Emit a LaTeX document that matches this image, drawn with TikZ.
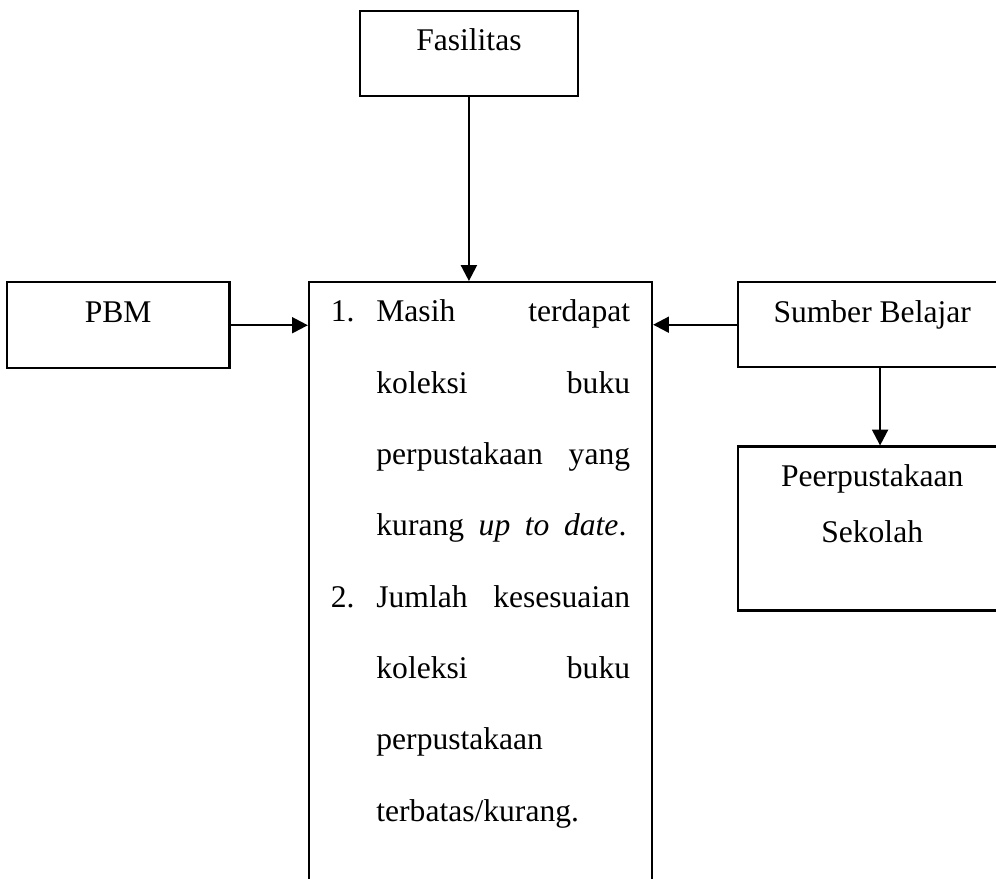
\documentclass[tikz,border=0pt]{standalone}
\usepackage{fontspec}
\setmainfont{Liberation Serif}
\usetikzlibrary{positioning,arrows.meta}

\newcommand{\nomor}[1]{\makebox[17.3pt][l]{#1}}
\newcommand{\barispenuh}[2][96.4pt]{\makebox[#1][s]{\spaceskip=0pt\xspaceskip=0pt #2}}

\begin{document}
\begin{tikzpicture}[>={Triangle[length=6pt,width=6pt]}, line width=0.9pt]
        % Style Definitions
        \tikzstyle{kotak} = [rectangle, draw=black, line width=0.9pt, font=\fontsize{12pt}{14pt}\selectfont, text height=9pt, text depth=11pt, minimum height=32.3pt, inner sep=2pt]
        \tikzstyle{daftar} = [rectangle, draw=black, line width=0.9pt, font=\fontsize{12pt}{27.1pt}\selectfont, align=left, text width=113.7pt, minimum width=130.3pt, minimum height=235.2pt, text height=9pt, text depth=214pt, inner xsep=8.3pt, inner ysep=2pt]

        \clip (0,0) rectangle (378.5pt,-334pt);

        % Nodes
        \node (masalah) [daftar, anchor=north] at (182.6pt,-106.8pt) {%
            \nomor{1.}\barispenuh{Masih terdapat}\\
            \hspace*{17.3pt}\barispenuh{koleksi buku}\\
            \hspace*{17.3pt}\barispenuh{perpustakaan yang}\\
            \hspace*{17.3pt}\barispenuh[95pt]{kurang \textit{up to date}.}\\
            \nomor{2.}\barispenuh{Jumlah kesesuaian}\\
            \hspace*{17.3pt}\barispenuh{koleksi buku}\\
            \hspace*{17.3pt}perpustakaan\\
            \hspace*{17.3pt}terbatas/kurang.};
        \node (fasilitas) [kotak, minimum width=82.8pt, above=69.9pt of masalah.north, xshift=-4.4pt] {Fasilitas};
        \node (pbm) [kotak, minimum width=84.7pt, minimum height=32.7pt, left=29.3pt of masalah.north west, anchor=north east] {PBM};
        \node (sumber) [kotak, minimum width=101.8pt, right=31.9pt of masalah.north east, anchor=north west] {Sumber Belajar};
        \node (perpus) [kotak, minimum width=101.8pt, minimum height=62.3pt, text width=90pt, align=center, text depth=40.7pt, font=\fontsize{12pt}{21.3pt}\selectfont, below=29.3pt of sumber.south west, anchor=north west] {Peerpustakaan\\Sekolah};

        % Arrows
        \draw[->] (fasilitas) -- (fasilitas |- masalah.north);
        \draw[->] (pbm) -- (pbm -| masalah.west);
        \draw[->] (sumber) -- (sumber -| masalah.east);
        \draw[->] ([xshift=3pt]sumber.south) -- ([xshift=3pt]perpus.north);

\end{tikzpicture}
\end{document}
